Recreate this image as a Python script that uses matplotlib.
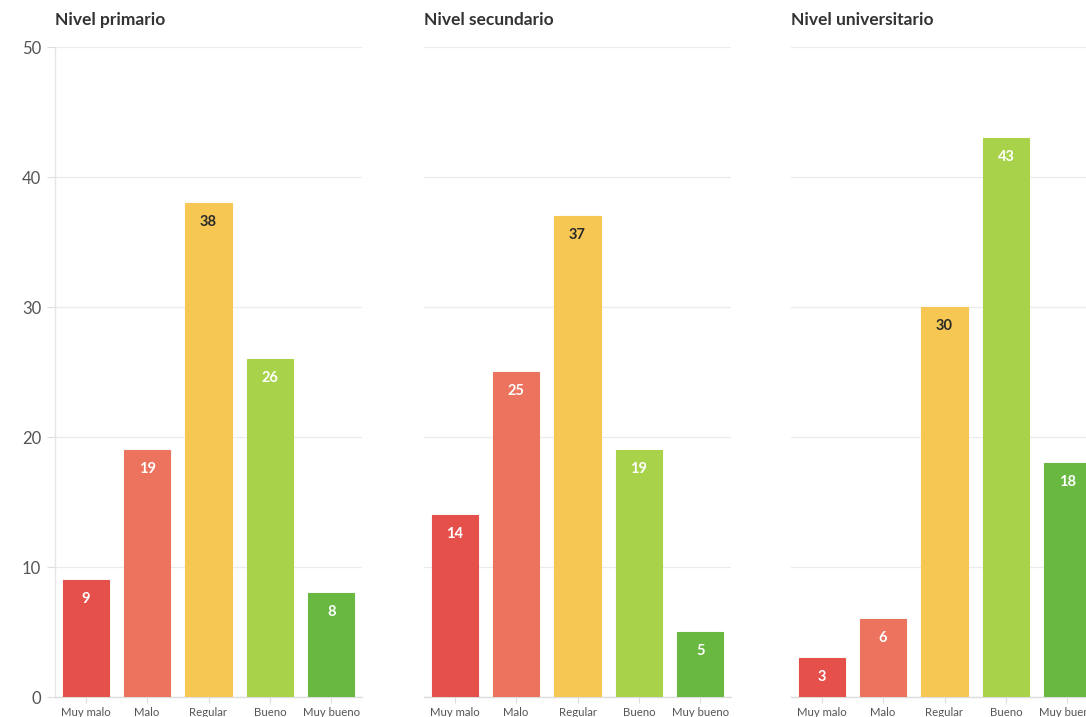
import matplotlib
matplotlib.use("Agg")
import matplotlib.pyplot as plt

categories = ["Muy malo", "Malo", "Regular", "Bueno", "Muy bueno"]
panel_titles = ["Nivel primario", "Nivel secundario", "Nivel universitario"]
primario = [9, 19, 38, 26, 8]
secundario = [14, 25, 37, 19, 5]
universitario = [3, 6, 30, 43, 18]
yticks = [0, 10, 20, 30, 40, 50]

colors = ["#E5504B", "#EC735E", "#F6C853", "#A8D24A", "#68B842"]
label_colors = ["white", "white", "#2a2a2a", "white", "white"]

plt.rcParams['font.family'] = ['Lato', 'DejaVu Sans']

W, H = 1086, 717
fig = plt.figure(figsize=(W / 100, H / 100), dpi=100)

lefts = [55, 424, 791]
pw = 307
bottom_px, top_px = 697, 47
series = [primario, secundario, universitario]

for i, (lp, vals, title) in enumerate(zip(lefts, series, panel_titles)):
    ax = fig.add_axes([lp / W, (H - bottom_px) / H, pw / W, (bottom_px - top_px) / H])
    x = list(range(len(categories)))
    ax.bar(x, vals, width=0.75, color=colors, edgecolor=[c for c in colors],
           linewidth=0.8, zorder=3)
    for xi, v, lc in zip(x, vals, label_colors):
        ax.annotate(str(v), (xi, v), xytext=(0, -14), textcoords="offset points",
                    ha="center", va="center", color=lc, fontsize=10.5,
                    fontweight="bold", zorder=4)
    ax.set_xlim(-0.5, 4.5)
    ax.set_ylim(0, 50)
    ax.set_yticks(yticks)
    ax.yaxis.grid(True, color="#ebebeb", linewidth=0.9, zorder=0)
    ax.set_axisbelow(True)
    for s in ["top", "right"]:
        ax.spines[s].set_visible(False)
    ax.spines["bottom"].set_color("#dddddd")
    ax.spines["bottom"].set_linewidth(1.0)
    ax.set_xticks(x)
    ax.set_xticklabels(categories, fontsize=8.2, color="#555555")
    ax.tick_params(axis="x", length=4, color="#dddddd", pad=3)
    if i == 0:
        ax.spines["left"].set_color("#e6e6e6")
        ax.spines["left"].set_linewidth(1.0)
        ax.tick_params(axis="y", length=6, color="#dddddd", labelsize=12,
                       labelcolor="#555555", pad=4)
    else:
        ax.spines["left"].set_visible(False)
        ax.tick_params(axis="y", length=0, labelleft=False)
    ax.text(0, 1.0 + 27 / 650, title, transform=ax.transAxes, ha="left",
            va="center", fontsize=12.5, fontweight="bold", color="#333333")

fig.savefig("out.png", dpi=100, facecolor="white")
